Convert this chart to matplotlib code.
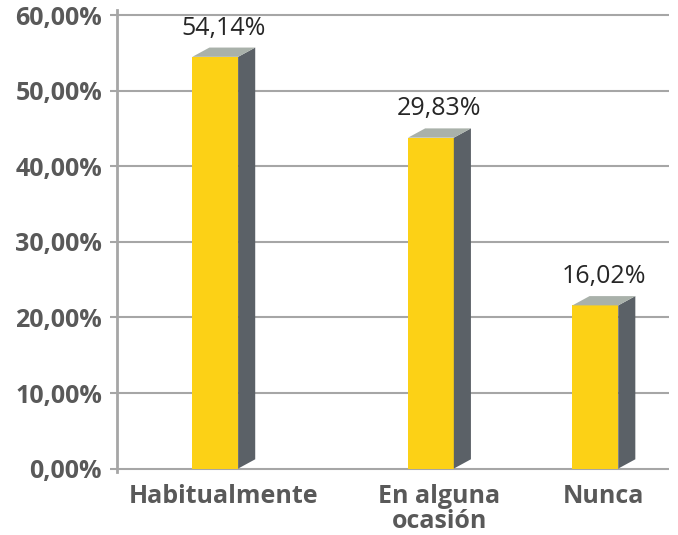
import matplotlib.pyplot as plt

# datos
categories = ['Habitualmente', 'En alguna\nocasión', 'Nunca']
heights = [54.5, 43.8, 21.6]          # altura dibujada de cada barra (%)
value_labels = ['54,14%', '29,83%', '16,02%']
yticks = [0, 10, 20, 30, 40, 50, 60]
ytick_labels = ['0,00%', '10,00%', '20,00%', '30,00%', '40,00%', '50,00%', '60,00%']

# disposición de las barras (x en fracción del eje)
bar_left = [0.136, 0.527, 0.825]
bar_w = 0.083
dx = 0.031   # profundidad 3D en x
dy = 1.23    # profundidad 3D en y (%)

front_col = '#FCD116'
side_col = '#5B6167'
top_col = '#A9B1AA'
grid_col = '#A6A6A6'
text_col = '#595959'

plt.rcParams['font.family'] = ['Open Sans', 'DejaVu Sans']

fig = plt.figure(figsize=(6.78, 5.35), dpi=100)
ax = fig.add_axes([0.173, 0.1178, 0.8137, 0.8635])

for x0, h in zip(bar_left, heights):
    ax.bar(x0, h, width=bar_w, align='edge', color=front_col, zorder=3)
    # cara lateral
    ax.fill([x0 + bar_w, x0 + bar_w + dx, x0 + bar_w + dx, x0 + bar_w],
            [0, dy, h + dy, h], color=side_col, zorder=3, lw=0)
    # cara superior
    ax.fill([x0, x0 + bar_w, x0 + bar_w + dx, x0 + dx],
            [h, h, h + dy, h + dy], color=top_col, zorder=3, lw=0)

centers = [x0 + (bar_w + dx) / 2 for x0 in bar_left]
for cx, h, lab in zip(centers, heights, value_labels):
    ax.annotate(lab, (cx, h + dy), xytext=(0, 5), textcoords='offset points',
                ha='center', va='bottom', fontsize=18, color='#262626')

ax.set_xlim(0, 1)
ax.set_ylim(-0.45, 60.7)
ax.set_yticks(yticks)
ax.set_yticklabels(ytick_labels, fontsize=18, fontweight='bold', color=text_col)
ax.set_xticks(centers)
ax.set_xticklabels(categories, fontsize=18, fontweight='bold', color=text_col,
                   linespacing=1.0)
ax.tick_params(axis='x', length=0, pad=9)
ax.tick_params(axis='y', length=5, width=1.5, color=grid_col, pad=6)

ax.yaxis.grid(True, color=grid_col, lw=1.5, zorder=0)
for s in ['top', 'right', 'bottom']:
    ax.spines[s].set_visible(False)
ax.spines['left'].set_color(grid_col)
ax.spines['left'].set_linewidth(2)

fig.savefig('out.png', dpi=100)
